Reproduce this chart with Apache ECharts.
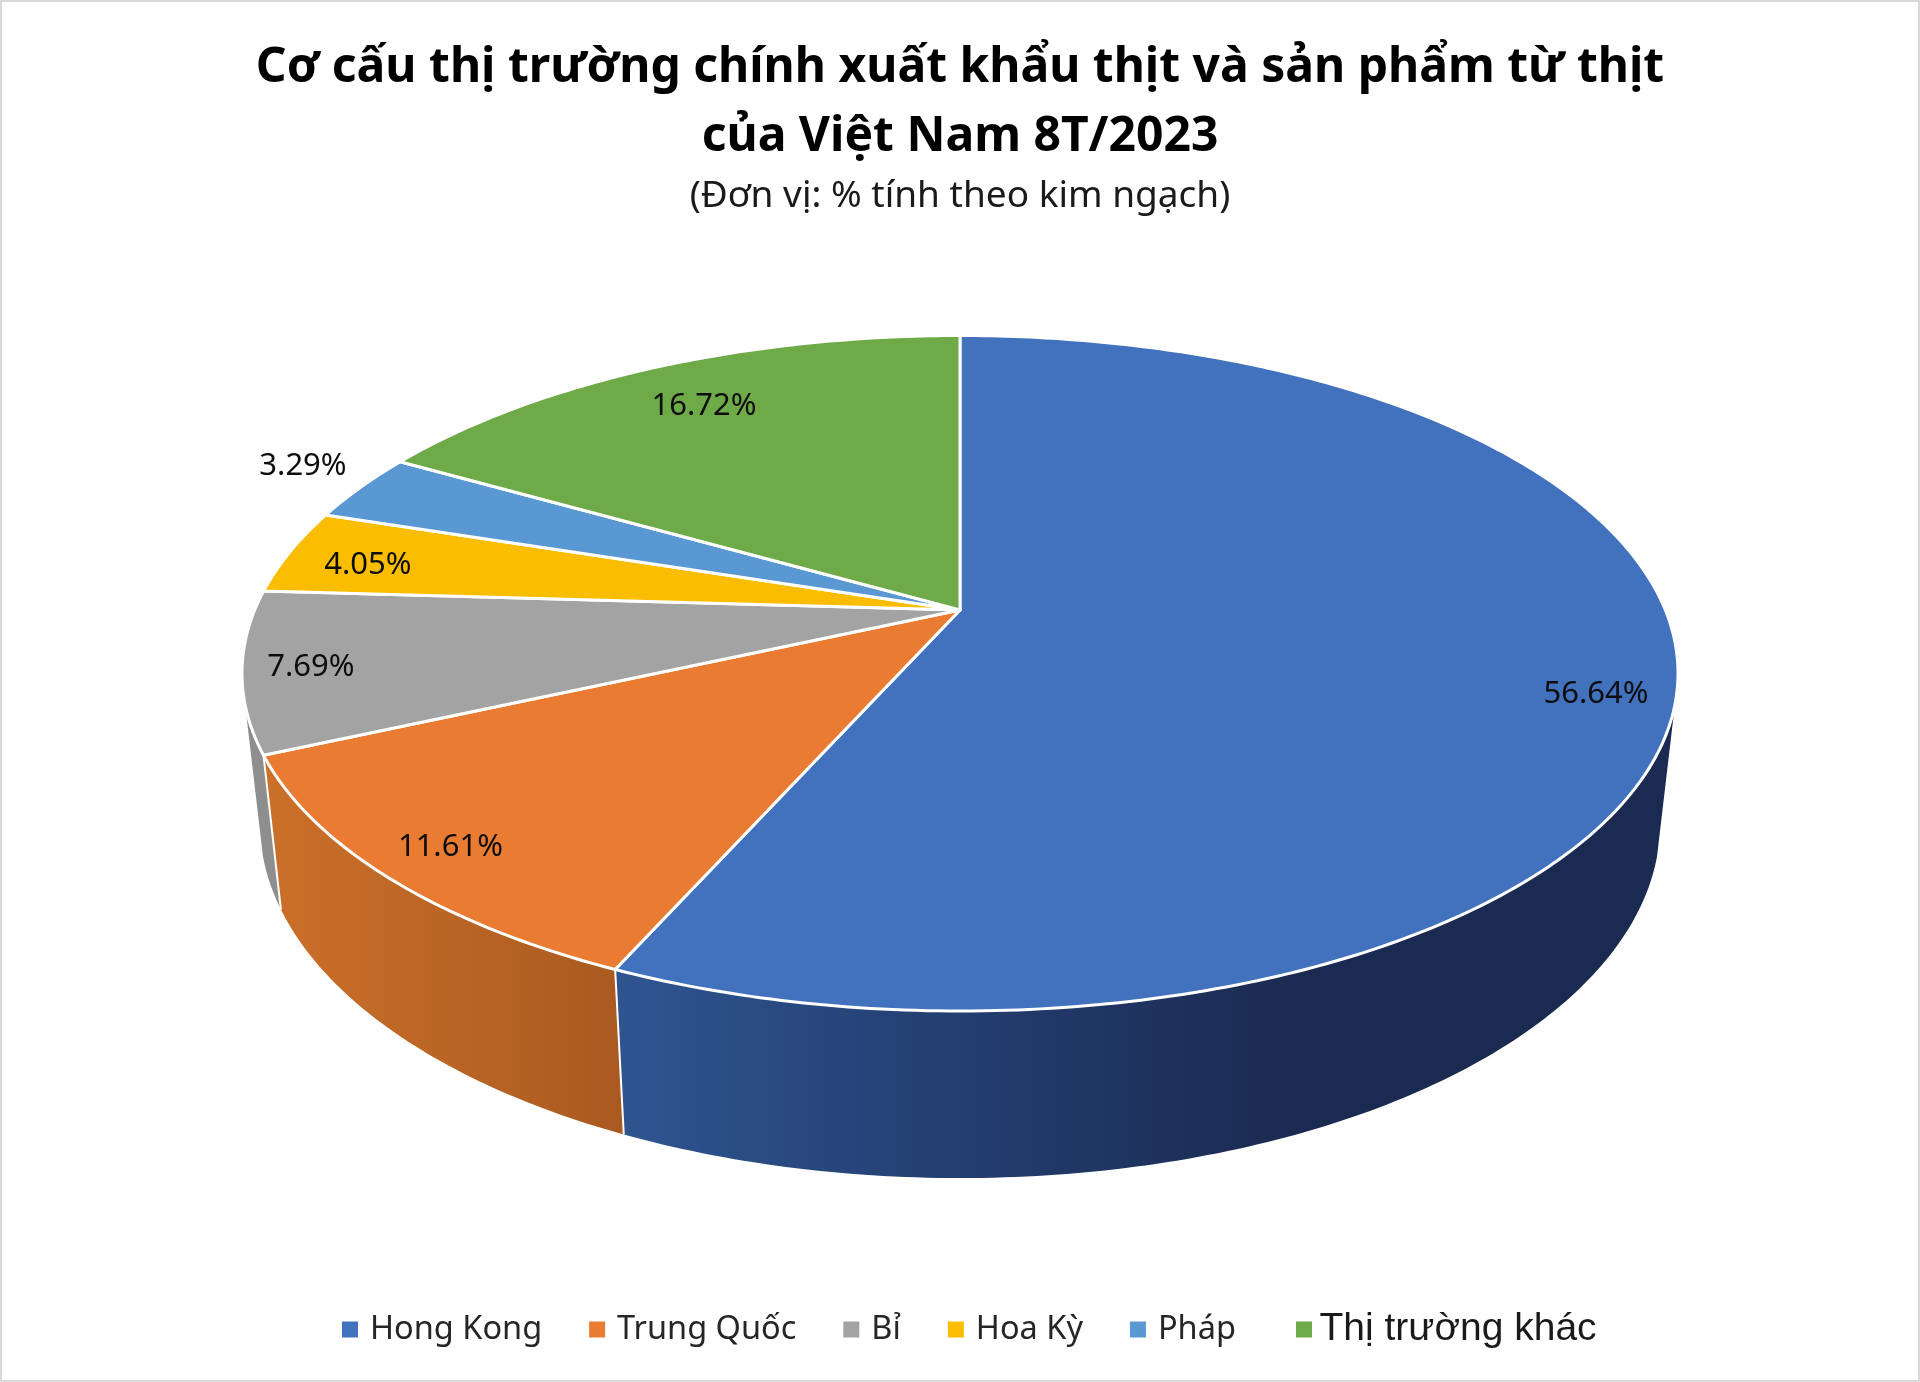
<!DOCTYPE html>
<html><head><meta charset="utf-8">
<style>html,body{margin:0;padding:0;background:#fff}#c{width:1920px;height:1382px}</style>
<script src="https://cdn.jsdelivr.net/npm/echarts@6/dist/echarts.min.js"></script>
</head><body><div id="c"></div>
<script>
// ---- data ----
const categories = ['Hong Kong','Trung Quốc','Bỉ','Hoa Kỳ','Pháp','Thị trường khác'];
const shares = [56.64,11.61,7.69,4.05,3.29,16.72];
const titleText = 'Cơ cấu thị trường chính xuất khẩu thịt và sản phẩm từ thịt\ncủa Việt Nam 8T/2023';
const subtitleText = '(Đơn vị: % tính theo kim ngạch)';

// ---- style ----
const topColors = ['#4271BE','#EA7B32','#A3A3A3','#FBBD00','#5A98D3','#6EAB48'];
const sideStops = [
  [[0,'#2f5591'],[0.5,'#233e70'],[1,'#1b2a50']],
  [[0,'#cc702a'],[1,'#a95a20']],
  [[0,'#8e8e8e'],[1,'#8e8e8e']],
  [[0,'#a5a5a5'],[1,'#a5a5a5']],[[0,'#5b9bd5'],[1,'#5b9bd5']],[[0,'#70ad47'],[1,'#70ad47']]
];
const sideGradientSpan = [[615,1300],[262,625],[240,290],[0,1],[0,1],[0,1]];
const labelRadius = [0.894,0.90,0.907,0.875,1.127,0.827];
const labelTurn = [3.65,0.2,0,-1,1.7,0.25];
const FONT = '"Noto Sans"';

// ---- 3D disc projection (unit disc -> screen) ----
const CX=960, CY=610, A=705.3, B=325.9, K=0.1873;
const BASE_X=0.975, BASE_Y=1.05, BASE_DY=116.5;
const VISIBLE=[106,254];
function rim(deg,r){
  const t=deg*Math.PI/180, u=r*Math.sin(t), v=r*Math.cos(t), d=1+K*v;
  return [CX+A*u/d, CY-B*v/d];
}
function base(p){ return [CX+(p[0]-CX)*BASE_X, BASE_Y*p[1]+BASE_DY]; }
function arc(a,b){ const out=[]; const n=Math.max(2,Math.ceil((b-a)/0.75));
  for(let i=0;i<=n;i++) out.push(rim(a+(b-a)*i/n,1)); return out; }
const total=shares.reduce((s,v)=>s+v,0);
function startDeg(i){ let s=0; for(let j=0;j<i;j++) s+=shares[j]; return s/total*360; }

function renderSlice(params,api){
  const i=params.seriesIndex, a=startDeg(i), b=a+api.value(0)/total*360, children=[];
  // side wall
  const sa=Math.max(a,VISIBLE[0]), sb=Math.min(b,VISIBLE[1]);
  if(sb>sa){
    const topEdge=arc(sa,sb), botEdge=topEdge.map(base).reverse();
    const span=sideGradientSpan[i];
    children.push({type:'polygon',z2:1,shape:{points:topEdge.concat(botEdge)},
      style:{fill:new echarts.graphic.LinearGradient(span[0],0,span[1],0,
        sideStops[i].map(s=>({offset:s[0],color:s[1]})),true)}});
    if(a>=VISIBLE[0]&&a<=VISIBLE[1]){
      const p=rim(a,1), q=base(p);
      children.push({type:'line',z2:2,shape:{x1:p[0],y1:p[1],x2:q[0],y2:q[1]},
        style:{stroke:'#fff',lineWidth:2}});
    }
  }
  // top face
  children.push({type:'polygon',z2:5,shape:{points:[[CX,CY]].concat(arc(a,b))},
    style:{fill:topColors[i],stroke:'#fff',lineWidth:3,lineJoin:'round'}});
  // value label
  const lp=rim((a+b)/2+labelTurn[i],labelRadius[i]);
  children.push({type:'text',z2:9,x:lp[0],y:lp[1]+2,
    style:{text:api.value(0).toFixed(2)+'%',font:'31px '+FONT,fill:'#0d0d0d',
      textAlign:'center',textVerticalAlign:'middle'}});
  return {type:'group',children};
}

const chart=echarts.init(document.getElementById('c'),null,{renderer:'canvas'});
chart.setOption({
  animation:false,
  backgroundColor:'#fff',
  title:[
    {text:titleText,left:955,top:29,textAlign:'center',
     textStyle:{fontFamily:FONT,fontWeight:'bold',fontSize:48,lineHeight:69,color:'#000',align:'center'}},
    {text:subtitleText,left:955,top:173,textAlign:'center',
     textStyle:{fontFamily:FONT,fontWeight:'normal',fontSize:37,color:'#1a1a1a'}}
  ],
  legend:[
    {left:337,top:1308,itemWidth:16,itemHeight:16,itemGap:47,icon:'rect',
     textStyle:{fontFamily:FONT,fontSize:32.5,color:'#262626',padding:[0,0,0,7]},
     data:categories.slice(0,5)},
    {left:1291,top:1305,itemWidth:16,itemHeight:16,icon:'rect',
     textStyle:{fontFamily:'"Liberation Sans"',fontSize:39,color:'#1a1a1a',padding:[0,0,0,2.5]},
     data:categories.slice(5)}
  ],
  graphic:[{type:'rect',silent:true,z:-1,shape:{x:1,y:1,width:1918,height:1380},style:{fill:'none',stroke:'#d9d9d9',lineWidth:2}}],
  series:categories.map((n,i)=>({
    type:'custom',name:n,coordinateSystem:'none',
    itemStyle:{color:topColors[i]},
    renderItem:renderSlice,
    data:[shares[i]]
  }))
});
</script></body></html>
